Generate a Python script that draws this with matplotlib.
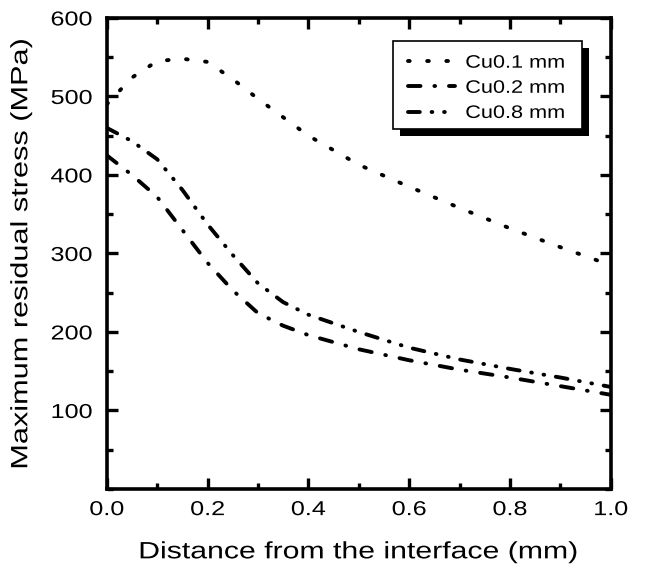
import matplotlib
matplotlib.use("Agg")
import matplotlib.pyplot as plt
from matplotlib.patches import Rectangle
from matplotlib.patheffects import AbstractPathEffect
from matplotlib.ticker import MultipleLocator
from matplotlib.transforms import Affine2D

plt.rcParams["font.family"] = ["Liberation Sans", "DejaVu Sans"]
plt.rcParams["lines.scale_dashes"] = False

# Cu0.1 mm (dotted)
x_01 = [0, 0.05, 0.1, 0.15, 0.2, 0.25, 0.3, 0.4, 0.5, 0.6, 0.7, 0.8, 0.9, 1.0]
y_01 = [490, 524, 545, 548, 544, 522, 497, 450, 413, 385, 358, 332, 308, 285]

# Cu0.2 mm (dash-dot)
x_02 = [0, 0.05, 0.1, 0.15, 0.2, 0.25, 0.3, 0.35, 0.4, 0.5, 0.6, 0.7, 0.8, 0.9, 1.0]
y_02 = [425, 400, 372, 330, 288, 253, 224, 208, 196, 178, 164, 152, 142, 131, 120]

# Cu0.8 mm (dash-dot-dot)
x_08 = [0, 0.05, 0.1, 0.15, 0.2, 0.25, 0.3, 0.35, 0.4, 0.5, 0.6, 0.7, 0.8, 0.9, 1.0]
y_08 = [460, 443, 420, 381, 337, 298, 262, 238, 222, 200, 180, 165, 153, 142, 130]


class Widen(AbstractPathEffect):
    """Draw text wider than the font (the scanned figure has wide lettering)."""

    def __init__(self, sx=1.3, anchor="center"):
        super().__init__()
        self.sx = sx
        self.anchor = anchor

    def draw_path(self, renderer, gc, tpath, affine, rgbFace=None):
        ext = tpath.get_extents()
        cx = {"left": ext.x0, "center": (ext.x0 + ext.x1) / 2, "right": ext.x1}[self.anchor]
        stretch = Affine2D().translate(-cx, 0).scale(self.sx, 1).translate(cx, 0)
        renderer.draw_path(gc, tpath, stretch + affine, rgbFace)


fig = plt.figure(figsize=(6.47, 5.71), dpi=100)
ax = fig.add_axes([0.165, 0.1436, 0.779, 0.825])

lw = 2.8
ax.plot(x_01, y_01, color="black", lw=lw, linestyle=(0, (1.2, 12.6)),
        dash_capstyle="round", label="Cu0.1 mm")
ax.plot(x_02, y_02, color="black", lw=lw, linestyle=(0, (9, 10, 0.5, 10)),
        dash_capstyle="round", label="Cu0.2 mm")
ax.plot(x_08, y_08, color="black", lw=lw,
        linestyle=(0, (8.5, 8.5, 0.5, 8.5, 0.5, 8.5)),
        dash_capstyle="round", label="Cu0.8 mm")

ax.set_xlim(0, 1.0)
ax.set_ylim(0, 600)
ax.xaxis.set_major_locator(MultipleLocator(0.2))
ax.xaxis.set_minor_locator(MultipleLocator(0.1))
ax.yaxis.set_minor_locator(MultipleLocator(50))
ax.set_yticks([100, 200, 300, 400, 500, 600])
ax.tick_params(which="both", direction="in", top=True, right=True, width=2.4,
               labelsize=14.5)
ax.tick_params(which="major", length=8)
ax.tick_params(which="minor", length=4.5)
ax.tick_params(axis="x", pad=8)
ax.tick_params(axis="y", pad=10.5)
for s in ax.spines.values():
    s.set_linewidth(2.6)

ax.set_xlabel("Distance from the interface (mm)", fontsize=17, labelpad=16,
              path_effects=[Widen(1.28)])
ax.set_ylabel("Maximum residual stress (MPa)", fontsize=17, labelpad=19,
              path_effects=[Widen(1.3)])

# legend: frame and shadow drawn as plain rectangles, entries without frame
ax.add_patch(Rectangle((0.5814, 0.7491), 0.375, 0.187, transform=ax.transAxes,
                       facecolor="black", edgecolor="none", zorder=4,
                       clip_on=False))
ax.add_patch(Rectangle((0.5675, 0.764), 0.375, 0.187, transform=ax.transAxes,
                       facecolor="white", edgecolor="black", lw=1.2, zorder=4.5,
                       clip_on=False))
leg = ax.legend(loc="upper left", bbox_to_anchor=(0.597, 0.922), borderaxespad=0,
                borderpad=0, frameon=False, fontsize=13, handlelength=2.6,
                handletextpad=0.6, labelspacing=0.45)
leg.set_zorder(5)

fig.canvas.draw()
for t in ax.get_xticklabels():
    t.set_path_effects([Widen(1.25, "center")])
for t in ax.get_yticklabels():
    t.set_path_effects([Widen(1.25, "right")])
for t in leg.get_texts():
    t.set_path_effects([Widen(1.2, "left")])

fig.savefig("out.png", dpi=100)
